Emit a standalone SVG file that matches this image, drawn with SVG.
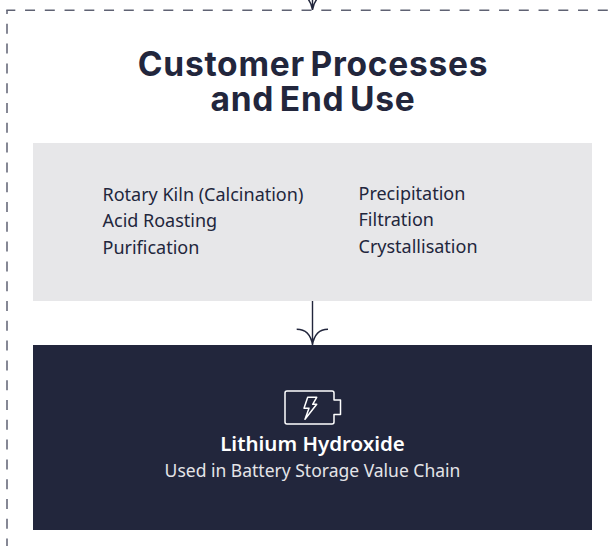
<svg xmlns="http://www.w3.org/2000/svg" width="614" height="546" viewBox="0 0 614 546">
<style>
.h{font-family:"Inter","Liberation Sans",sans-serif;font-weight:700;font-size:33.500px;letter-spacing:.75px;word-spacing:-3px;fill:#22263c;text-anchor:middle}
.b{font-family:"Noto Sans","Liberation Sans",sans-serif;font-size:18px;fill:#22263c}
.c{stroke:#22263c;fill:none;stroke-width:1.4}
.d{fill:none;stroke:#5f6273;stroke-width:1.5}
</style>
<rect width="614" height="546" fill="#fff"/>
<g id="connectors">
<path class="d" d="M7 10.300V546" stroke-dasharray="10 9.800" stroke-dashoffset="6.300"/>
<path class="d" d="M6.300 10.300H608" stroke-dasharray="10 9.750" stroke-dashoffset="1"/>
<path class="c" d="M312.500 0V10M297 -5.500Q310 -5.500 312.500 10Q315 -5.500 328 -5.500"/>
<path class="c" d="M312.500 300V345M296.700 329.300Q310 329.300 312.500 345Q315 329.300 328 329.300"/>
</g>
<g id="title"><text class="h" x="313" y="76">Customer Processes</text><text class="h" x="313" y="110.500">and End Use</text></g>
<g id="processes">
<rect x="33" y="143" width="559" height="158" fill="#e7e7e9"/>
<text class="b" x="102.500" y="201">Rotary Kiln (Calcination)</text>
<text class="b" x="102.500" y="227">Acid Roasting</text>
<text class="b" x="102.500" y="253.500">Purification</text>
<text class="b" x="358.500" y="200.300">Precipitation</text>
<text class="b" x="358.500" y="226.300">Filtration</text>
<text class="b" x="358.500" y="253">Crystallisation</text>
</g>
<g id="lithium-hydroxide">
<rect x="33" y="345" width="559" height="185" fill="#22263c"/>
<g fill="none" stroke="#fff" stroke-width="1.5" stroke-linejoin="round">
<path d="M287 391H332Q334 391 334 393V400H340.500V414.500H334V422Q334 424 332 424H287Q285 424 285 422V393Q285 391 287 391Z"/>
<path d="M307.700 397.300H316.700L312.700 404.300H316.700L305 419.300L309 408.300H304Z"/>
</g>
<text x="312.500" y="451" text-anchor="middle" font-family="Noto Sans,Liberation Sans,sans-serif" font-size="20.500" font-weight="600" fill="#fff">Lithium Hydroxide</text>
<text x="312.500" y="476.500" text-anchor="middle" font-family="Noto Sans,Liberation Sans,sans-serif" font-size="17.500" fill="#e4e4e8">Used in Battery Storage Value Chain</text>
</g>
</svg>
